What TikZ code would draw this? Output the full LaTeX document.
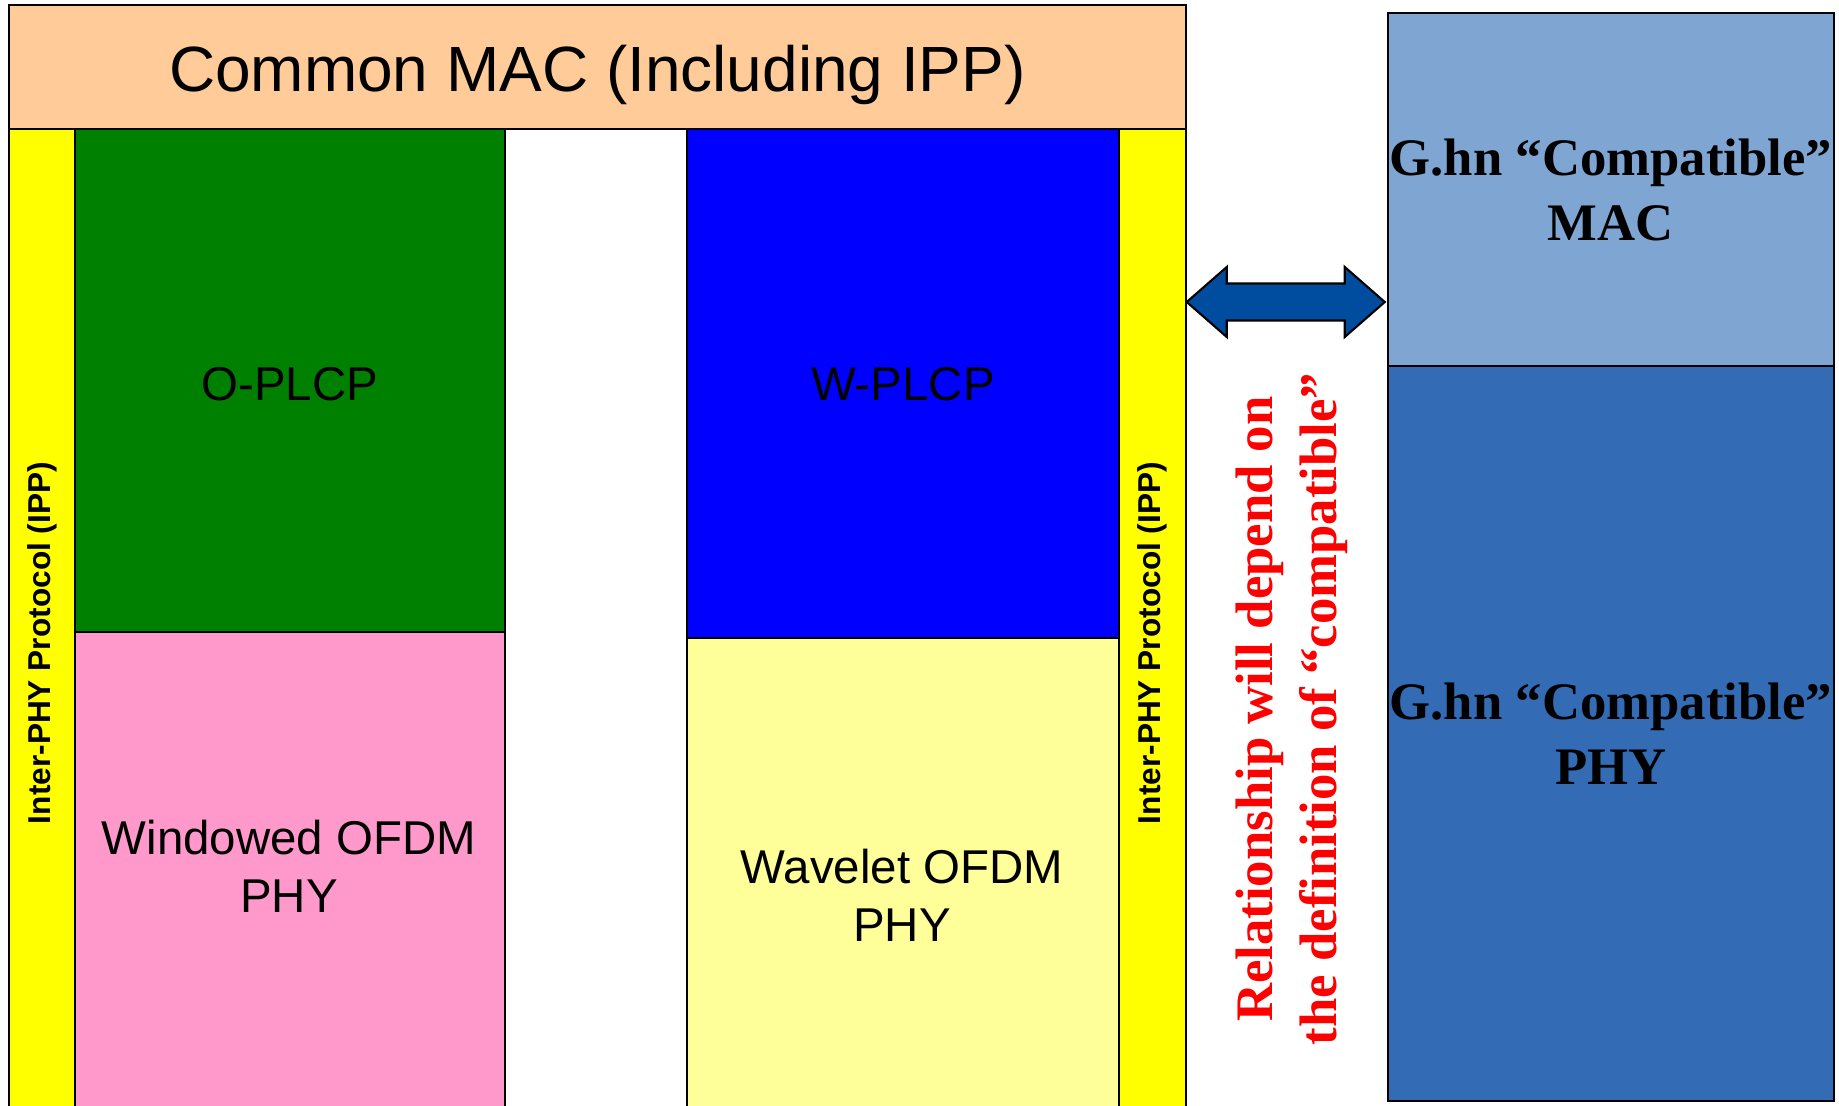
\documentclass[tikz,border=0pt]{standalone}
\usepackage{fontspec}
\setmainfont{Liberation Sans}
\newfontfamily\ghnfont{Liberation Serif}
\usepackage{tikz}
\usetikzlibrary{calc}

\definecolor{macpeach}{HTML}{FFCC99}
\definecolor{ippyellow}{HTML}{FFFF00}
\definecolor{oplcpgreen}{HTML}{008000}
\definecolor{windpink}{HTML}{FF99CC}
\definecolor{wplcpblue}{HTML}{0000FF}
\definecolor{wavyellow}{HTML}{FFFF99}
\definecolor{ghnmacblue}{HTML}{7FA6D2}
\definecolor{ghnphyblue}{HTML}{336CB4}
\definecolor{arrowblue}{HTML}{004DA0}

\tikzset{
  layer/.style={draw=black, line width=0.5pt, inner sep=0pt, anchor=south west},
  sanstext/.style={font=\fontsize{13.5}{16.5}\selectfont, align=center, inner sep=0pt},
  ipptext/.style={font=\bfseries\fontsize{9}{11}\selectfont, rotate=90, inner sep=0pt},
  ghntext/.style={font=\ghnfont\bfseries\fontsize{15}{18.5}\selectfont, align=center, inner sep=0pt},
  biarrow/.style={draw=black, line width=0.6pt, fill=arrowblue, line join=miter}
}

\begin{document}
\begin{tikzpicture}
			%%%%% START %%%%%
			\useasboundingbox (0,0) rectangle (18.39,11.05);
			
			% left stack
			\node[layer, fill=ippyellow, minimum width=0.66cm, minimum height=9.80cm] (ippL) at (0.08,-0.05) {};
			\node[layer, fill=oplcpgreen, minimum width=4.30cm, minimum height=5.03cm] (oplcp) at (0.74,4.72) {};
			\node[layer, fill=windpink, minimum width=4.30cm, minimum height=4.77cm] (winphy) at (0.74,-0.05) {};
			
			% right stack
			\node[layer, fill=wplcpblue, minimum width=4.32cm, minimum height=5.09cm] (wplcp) at (6.86,4.66) {};
			\node[layer, fill=wavyellow, minimum width=4.32cm, minimum height=4.71cm] (wavphy) at (6.86,-0.05) {};
			\node[layer, fill=ippyellow, minimum width=0.67cm, minimum height=9.80cm] (ippR) at (11.18,-0.05) {};
			
			% common MAC on top
			\node[layer, fill=macpeach, minimum width=11.77cm, minimum height=1.24cm] (mac) at (0.08,9.75) {};
			\node[sanstext, font=\fontsize{18.2}{22}\selectfont] (macT) at ($(mac.center)+(0,-0.08)$) {Common MAC (Including IPP)};
			
			\node[sanstext] (oplcpT) at ($(oplcp.center)+(0,-0.035)$) {O-PLCP};
			\node[sanstext] (wplcpT) at ($(wplcp.center)+(0,-0.01)$) {W-PLCP};
			\node[sanstext] (winphyT) at (2.89,2.385) {Windowed OFDM\\PHY};
			\node[sanstext] (wavphyT) at (9.02,2.10) {Wavelet OFDM\\PHY};
			
			\node[ipptext] (ippLT) at (ippL.center |- 0,4.62) {Inter-PHY Protocol (IPP)};
			\node[ipptext] (ippRT) at (ippR.center |- 0,4.62) {Inter-PHY Protocol (IPP)};
			
			% G.hn side
			\node[layer, fill=ghnmacblue, minimum width=4.46cm, minimum height=3.53cm] (ghnmac) at (13.87,7.38) {};
			\node[layer, fill=ghnphyblue, minimum width=4.46cm, minimum height=7.35cm] (ghnphy) at (13.87,0.03) {};
			\node[ghntext] (ghnmacT) at (ghnmac.center) {G.hn “Compatible”\\MAC};
			\node[ghntext] (ghnphyT) at (ghnphy.center) {G.hn “Compatible”\\PHY};
			
			% relationship arrow
			\coordinate (arrL) at (ippR.east |- 0,8.03);
			\draw[biarrow] (arrL) -- ++(0.40,0.35) -- ++(0,-0.165) -- ++(1.18,0) -- ++(0,0.165)
				-- ++(0.40,-0.35) -- ++(-0.40,-0.35) -- ++(0,0.165) -- ++(-1.18,0) -- ++(0,-0.165) -- cycle;
			
			\node[ghntext, text=red, rotate=90, font=\ghnfont\bfseries\fontsize{15}{18.2}\selectfont] (relT) at (12.92,3.96)
				{Relationship will depend on\\the definition of “compatible”};
			
			%%%%% END %%%%%
\end{tikzpicture}
\end{document}
